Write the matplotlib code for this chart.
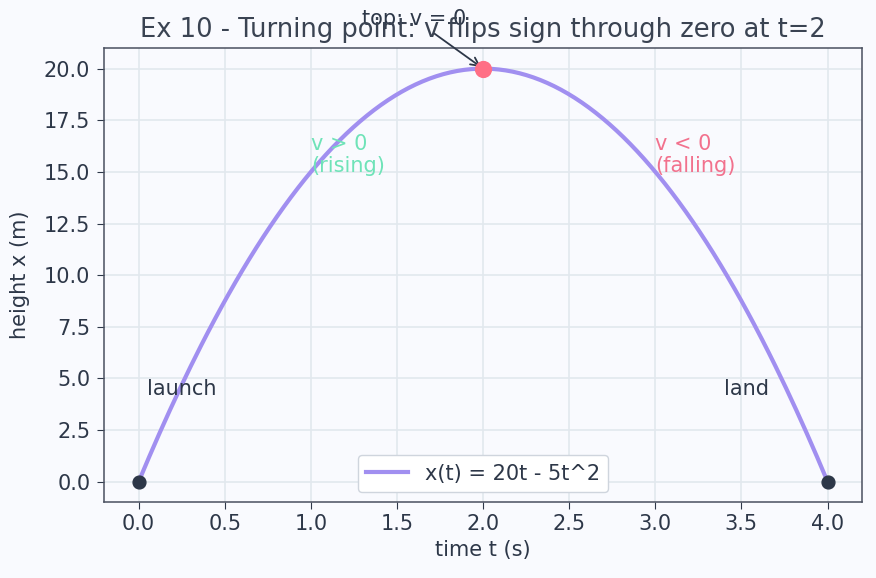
import numpy as np
import matplotlib
matplotlib.use("Agg")
import matplotlib.pyplot as plt

# trajectory x(t) = 20t - 5t^2
t = np.linspace(0, 4, 200)
x = 20 * t - 5 * t ** 2
t_top, x_top = 2.0, 20.0
t_ends = [0.0, 4.0]
x_ends = [0.0, 0.0]

bg = "#f9fafe"
ink = "#2d3748"

fig, ax = plt.subplots(figsize=(8.76, 5.78), dpi=100)
fig.patch.set_facecolor(bg)
ax.set_facecolor(bg)

ax.grid(True, color="#e2e8ee", linewidth=1.2)
ax.set_axisbelow(True)

ax.plot(t, x, color="#a18ff0", linewidth=3, label="x(t) = 20t - 5t^2")
ax.scatter([t_top], [x_top], color="#ff6f85", s=130, zorder=5)
ax.scatter(t_ends, x_ends, color=ink, s=85, zorder=5)

ax.annotate("top: v = 0", xy=(t_top, x_top), xytext=(1.6, 22.4),
            ha="center", va="center", fontsize=15, color=ink,
            arrowprops=dict(arrowstyle="->", color=ink, lw=1.3))
ax.text(1.0, 14.8, "v > 0\n(rising)", color="#6fe3b8", fontsize=15,
        va="bottom", linespacing=1.1)
ax.text(3.0, 14.8, "v < 0\n(falling)", color="#f2718d", fontsize=15,
        va="bottom", linespacing=1.1)
ax.text(0.05, 4, "launch", color=ink, fontsize=15, va="bottom")
ax.text(3.4, 4, "land", color=ink, fontsize=15, va="bottom")

ax.set_title("Ex 10 - Turning point: v flips sign through zero at t=2",
             fontsize=18.5, color="#3a4352", pad=8)
ax.set_xlabel("time t (s)", fontsize=15, color=ink, labelpad=4)
ax.set_ylabel("height x (m)", fontsize=15, color=ink, labelpad=10)
ax.set_xticks(np.arange(0, 4.01, 0.5))
ax.set_yticks(np.arange(0, 20.01, 2.5))
ax.tick_params(labelsize=15, colors=ink, length=5)
ax.tick_params(axis="y", pad=5)
for s in ax.spines.values():
    s.set_color("#4a5060")
    s.set_linewidth(1.1)

leg = ax.legend(loc="lower center", fontsize=15, framealpha=1)
leg.get_frame().set_edgecolor("#cfd5dd")
for txt in leg.get_texts():
    txt.set_color(ink)

plt.subplots_adjust(left=0.119, right=0.984, top=0.917, bottom=0.131)
plt.savefig("out.png", dpi=100, facecolor=bg)
